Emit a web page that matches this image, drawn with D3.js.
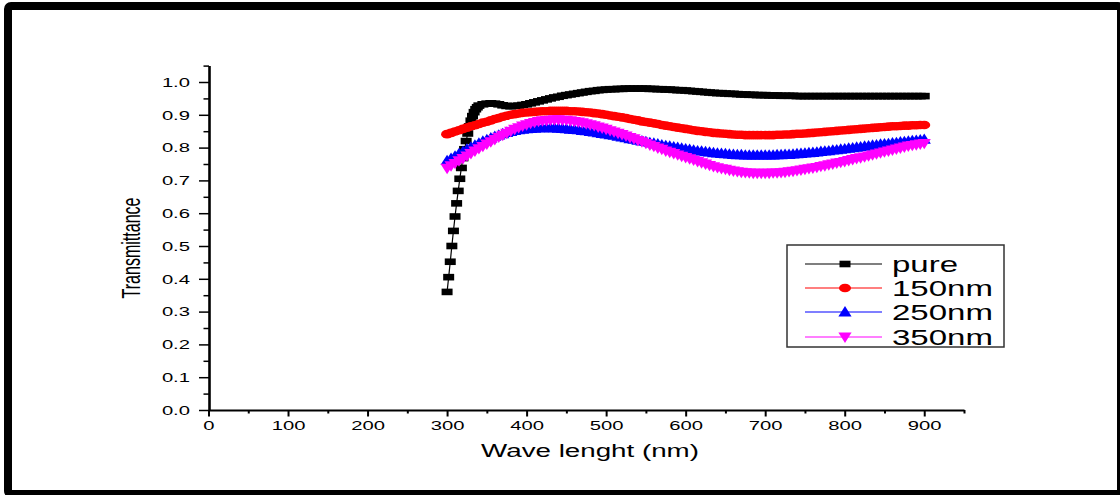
<!DOCTYPE html>
<html>
<head>
<meta charset="utf-8">
<script src="https://cdn.jsdelivr.net/npm/d3@7/dist/d3.min.js"></script>
<style>
  html, body { margin: 0; padding: 0; background: #fff; }
  svg { display: block; }
</style>
</head>
<body>
<script>
// ---- data -------------------------------------------------------------
// wavelength grid (nm) shared by the coated films
const wavelengths = [
  300,305,310,315,320,325,330,335,340,345,
  350,355,360,365,370,375,380,385,390,395,
  400,405,410,415,420,425,430,435,440,445,
  450,455,460,465,470,475,480,485,490,495,
  500,505,510,515,520,525,530,535,540,545,
  550,555,560,565,570,575,580,585,590,595,
  600,605,610,615,620,625,630,635,640,645,
  650,655,660,665,670,675,680,685,690,695,
  700,705,710,715,720,725,730,735,740,745,
  750,755,760,765,770,775,780,785,790,795,
  800,805,810,815,820,825,830,835,840,845,
  850,855,860,865,870,875,880,885,890,895,
  900
];

// the pure sample is sampled more finely across its absorption edge
const pureWavelengths = [
  300,302,304,306,308,310,312,314,316,318,
  320,322,324,326,328,330,332,334,336,338,340,
  345,
  350,355,360,365,370,375,380,385,390,395,
  400,405,410,415,420,425,430,435,440,445,
  450,455,460,465,470,475,480,485,490,495,
  500,505,510,515,520,525,530,535,540,545,
  550,555,560,565,570,575,580,585,590,595,
  600,605,610,615,620,625,630,635,640,645,
  650,655,660,665,670,675,680,685,690,695,
  700,705,710,715,720,725,730,735,740,745,
  750,755,760,765,770,775,780,785,790,795,
  800,805,810,815,820,825,830,835,840,845,
  850,855,860,865,870,875,880,885,890,895,
  900
];

const pureT = [
  0.360,0.405,0.452,0.500,0.546,0.590,0.630,0.668,0.705,0.738,
  0.768,0.795,0.820,0.843,0.865,0.882,0.896,0.908,0.917,0.923,0.928,
  0.932,
  0.934,0.935,0.934,0.932,0.929,0.927,0.926,0.927,0.928,0.930,
  0.932,0.935,0.938,0.941,0.944,0.947,0.950,0.953,0.955,0.958,
  0.960,0.962,0.964,0.966,0.968,0.970,0.972,0.973,0.975,0.976,
  0.977,0.978,0.978,0.979,0.979,0.980,0.980,0.980,0.980,0.980,
  0.980,0.979,0.979,0.978,0.978,0.977,0.977,0.976,0.975,0.975,
  0.974,0.973,0.972,0.971,0.970,0.969,0.968,0.967,0.966,0.966,
  0.965,0.964,0.964,0.963,0.962,0.962,0.961,0.961,0.960,0.960,
  0.960,0.959,0.959,0.959,0.958,0.958,0.958,0.958,0.957,0.957,
  0.957,0.957,0.957,0.957,0.957,0.957,0.957,0.957,0.957,0.957,
  0.957,0.957,0.957,0.957,0.957,0.957,0.957,0.957,0.957,0.957,
  0.957,0.957,0.957,0.957,0.957,0.957,0.957,0.957,0.957,0.957,
  0.957
];

const t150 = [
  0.841,0.845,0.849,0.853,0.857,0.861,0.865,0.868,0.872,0.876,
  0.879,0.883,0.887,0.890,0.894,0.897,0.900,0.902,0.904,0.906,
  0.907,0.908,0.909,0.910,0.911,0.911,0.912,0.912,0.912,0.912,
  0.912,0.911,0.911,0.910,0.909,0.908,0.907,0.905,0.904,0.902,
  0.900,0.898,0.896,0.894,0.892,0.890,0.887,0.885,0.883,0.880,
  0.878,0.876,0.874,0.872,0.869,0.867,0.865,0.863,0.861,0.859,
  0.857,0.855,0.853,0.851,0.850,0.848,0.847,0.845,0.844,0.843,
  0.842,0.841,0.840,0.839,0.839,0.838,0.838,0.838,0.838,0.838,
  0.838,0.838,0.838,0.839,0.839,0.840,0.840,0.841,0.842,0.842,
  0.843,0.844,0.845,0.846,0.847,0.848,0.849,0.850,0.851,0.852,
  0.853,0.854,0.855,0.856,0.857,0.858,0.859,0.860,0.861,0.862,
  0.863,0.864,0.865,0.865,0.866,0.867,0.867,0.868,0.868,0.869,
  0.869
];

const t250 = [
  0.760,0.767,0.774,0.781,0.788,0.795,0.801,0.807,0.813,0.819,
  0.824,0.829,0.834,0.838,0.842,0.846,0.849,0.852,0.854,0.856,
  0.857,0.858,0.859,0.860,0.860,0.860,0.860,0.860,0.859,0.858,
  0.857,0.856,0.855,0.854,0.852,0.851,0.849,0.847,0.845,0.843,
  0.841,0.839,0.837,0.834,0.832,0.830,0.827,0.825,0.822,0.820,
  0.818,0.815,0.813,0.811,0.808,0.806,0.804,0.802,0.800,0.798,
  0.796,0.794,0.792,0.790,0.789,0.787,0.786,0.784,0.783,0.782,
  0.781,0.780,0.779,0.778,0.778,0.777,0.777,0.777,0.777,0.777,
  0.777,0.777,0.777,0.778,0.778,0.779,0.779,0.780,0.781,0.782,
  0.783,0.784,0.785,0.786,0.788,0.789,0.790,0.792,0.793,0.795,
  0.796,0.798,0.799,0.801,0.802,0.804,0.805,0.807,0.808,0.810,
  0.811,0.812,0.814,0.815,0.817,0.818,0.819,0.821,0.822,0.823,
  0.825
];

const t350 = [
  0.737,0.745,0.752,0.760,0.767,0.775,0.782,0.790,0.797,0.804,
  0.811,0.818,0.825,0.832,0.838,0.844,0.850,0.856,0.861,0.866,
  0.870,0.874,0.877,0.880,0.882,0.883,0.884,0.885,0.885,0.884,
  0.884,0.882,0.880,0.878,0.876,0.873,0.870,0.867,0.863,0.860,
  0.856,0.852,0.848,0.844,0.840,0.836,0.831,0.827,0.822,0.818,
  0.813,0.808,0.804,0.799,0.795,0.790,0.786,0.782,0.778,0.774,
  0.770,0.766,0.762,0.758,0.754,0.750,0.746,0.742,0.739,0.736,
  0.734,0.731,0.729,0.727,0.725,0.724,0.723,0.722,0.722,0.722,
  0.722,0.722,0.723,0.723,0.724,0.725,0.727,0.728,0.730,0.732,
  0.734,0.736,0.738,0.740,0.743,0.745,0.748,0.750,0.753,0.755,
  0.758,0.761,0.764,0.767,0.769,0.772,0.775,0.778,0.781,0.784,
  0.787,0.790,0.793,0.796,0.799,0.802,0.805,0.807,0.809,0.811,
  0.813
];

const seriesNames = ["pure", "150nm", "250nm", "350nm"];
const seriesColors = ["#000000", "#ff0000", "#0000ff", "#ff00ff"];

const xTicks = [0, 100, 200, 300, 400, 500, 600, 700, 800, 900];
const xMinorTicks = [50, 150, 250, 350, 450, 550, 650, 750, 850, 950];
const yTicks = [0.0, 0.1, 0.2, 0.3, 0.4, 0.5, 0.6, 0.7, 0.8, 0.9, 1.0];
const yMinorTicks = [0.05, 0.15, 0.25, 0.35, 0.45, 0.55, 0.65, 0.75, 0.85, 0.95, 1.05];

// ---- layout -----------------------------------------------------------
const W = 1120, H = 495;
const FONT = "'Liberation Sans', Arial, Helvetica, sans-serif";
const SX = 1.5; // the whole figure is drawn horizontally widened

const svg = d3.select("body").append("svg")
  .attr("width", W).attr("height", H);

svg.append("rect").attr("width", W).attr("height", H).attr("fill", "#fff");

// outer frame
svg.append("rect")
  .attr("x", 8).attr("y", 6)
  .attr("width", 1113).attr("height", 488)
  .attr("rx", 3)
  .attr("fill", "none").attr("stroke", "#000").attr("stroke-width", 8);

const x = d3.scaleLinear().domain([0, 950]).range([208.5, 964]);
const y = d3.scaleLinear().domain([0, 1.05]).range([410, 65.6]);

// ---- axes -------------------------------------------------------------
const xAxisG = svg.append("g").attr("transform", `translate(0,${y(0)})`);
xAxisG.call(d3.axisBottom(x).tickValues(xTicks).tickSize(6.5).tickSizeOuter(0)
  .tickPadding(4).tickFormat(d3.format("d")));
xAxisG.select(".domain").attr("stroke-width", 1.8);
xAxisG.selectAll(".tick line").attr("stroke-width", 2);
xAxisG.selectAll(".tick text")
  .attr("font-family", FONT).attr("font-size", 13.5).attr("fill", "#000")
  .attr("transform", `scale(${SX},1)`);

const xMinorG = svg.append("g").attr("transform", `translate(0,${y(0)})`);
xMinorG.call(d3.axisBottom(x).tickValues(xMinorTicks).tickSize(3.5).tickSizeOuter(0).tickFormat(""));
xMinorG.select(".domain").remove();
xMinorG.selectAll(".tick line").attr("stroke-width", 2);

const yAxisG = svg.append("g").attr("transform", `translate(${x(0) + 0.5},0)`);
yAxisG.call(d3.axisLeft(y).tickValues(yTicks).tickSize(10).tickSizeOuter(0)
  .tickPadding(9).tickFormat(d3.format(".1f")));
yAxisG.select(".domain").attr("stroke-width", 2.6);
yAxisG.selectAll(".tick line").attr("stroke-width", 1.5);
yAxisG.selectAll(".tick text")
  .attr("font-family", FONT).attr("font-size", 13.5).attr("fill", "#000")
  .attr("x", -19 / SX)
  .attr("transform", `scale(${SX},1)`);

const yMinorG = svg.append("g").attr("transform", `translate(${x(0) + 0.5},0)`);
yMinorG.call(d3.axisLeft(y).tickValues(yMinorTicks).tickSize(5.5).tickSizeOuter(0).tickFormat(""));
yMinorG.select(".domain").remove();
yMinorG.selectAll(".tick line").attr("stroke-width", 1.5);

// axis titles
svg.append("text")
  .attr("transform", `translate(590,457) scale(${SX},1)`)
  .attr("text-anchor", "middle")
  .attr("font-family", FONT).attr("font-size", 18.5).attr("fill", "#000")
  .text("Wave lenght (nm)");

svg.append("text")
  .attr("transform", `translate(140,248) scale(${SX},1) rotate(-90)`)
  .attr("text-anchor", "middle")
  .attr("font-family", FONT).attr("font-size", 17).attr("fill", "#000")
  .attr("textLength", 101).attr("lengthAdjust", "spacingAndGlyphs")
  .text("Transmittance");

// ---- markers ----------------------------------------------------------
const markerPaths = [
  "M-5.5,-3.3h11v6.6h-11z",                                   // square
  "M-6,0a6,4.3 0 1,0 12,0a6,4.3 0 1,0 -12,0z",                 // circle
  "M0,-6L6.6,4.4L-6.6,4.4Z",                                   // triangle up
  "M0,6L6.6,-4.4L-6.6,-4.4Z"                                   // triangle down
];

const zip = (ws, vs) => ws.slice(0, Math.min(ws.length, vs.length)).map((w, i) => ({ w, v: vs[i] }));

const series = [
  { name: seriesNames[0], color: seriesColors[0], marker: markerPaths[0], pts: zip(pureWavelengths, pureT) },
  { name: seriesNames[1], color: seriesColors[1], marker: markerPaths[1], pts: zip(wavelengths, t150) },
  { name: seriesNames[2], color: seriesColors[2], marker: markerPaths[2], pts: zip(wavelengths, t250) },
  { name: seriesNames[3], color: seriesColors[3], marker: markerPaths[3], pts: zip(wavelengths, t350) }
];

const line = d3.line().x(d => x(d.w)).y(d => y(d.v));

const plot = svg.append("g");
series.forEach(s => {
  const g = plot.append("g");
  g.append("path")
    .attr("d", line(s.pts))
    .attr("fill", "none").attr("stroke", s.color).attr("stroke-width", 1.2);
  g.selectAll("path.m").data(s.pts).join("path")
    .attr("class", "m")
    .attr("d", s.marker)
    .attr("transform", d => `translate(${x(d.w)},${y(d.v)})`)
    .attr("fill", s.color);
});

// ---- legend -----------------------------------------------------------
const legend = svg.append("g");
legend.append("rect")
  .attr("x", 787).attr("y", 245).attr("width", 217).attr("height", 102)
  .attr("fill", "#fff").attr("stroke", "#333").attr("stroke-width", 1.5);

const rowY = [264, 288, 312, 337];
series.forEach((s, i) => {
  const ry = rowY[i];
  legend.append("line")
    .attr("x1", 805).attr("x2", 882).attr("y1", ry).attr("y2", ry)
    .attr("stroke", s.color).attr("stroke-width", 1.2);
  legend.append("path")
    .attr("d", s.marker)
    .attr("transform", `translate(845,${ry})`)
    .attr("fill", s.color);
  legend.append("text")
    .attr("transform", `translate(892,${ry + 8}) scale(${SX},1)`)
    .attr("font-family", FONT).attr("font-size", 22).attr("fill", "#000")
    .text(s.name);
});
</script>
</body>
</html>
